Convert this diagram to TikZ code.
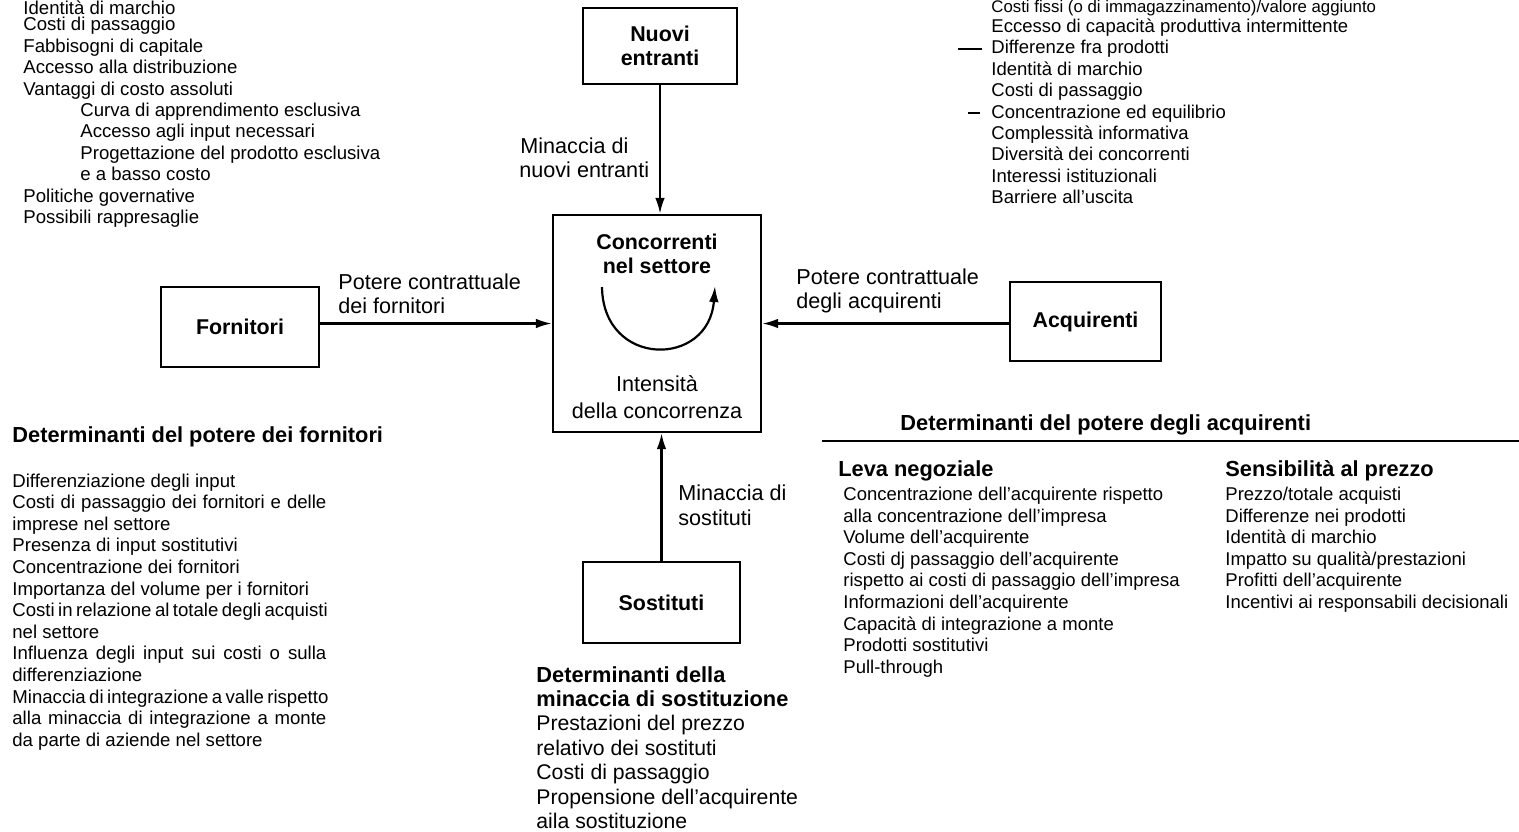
\documentclass[tikz,border=0pt]{standalone}
\usepackage{fontspec}
\setmainfont{Liberation Sans}
\usetikzlibrary{arrows.meta}
\newcommand\fBox{\fontsize{10.7pt}{12pt}\selectfont\bfseries}
\newcommand\fLab{\fontsize{10.8pt}{12pt}\selectfont}
\newcommand\fL{\fontsize{9.3pt}{11pt}\selectfont}
\newcommand\fR{\fontsize{9.25pt}{11pt}\selectfont}
\newcommand\fRs{\fontsize{8.4pt}{10pt}\selectfont}
\newcommand\fH{\fontsize{10.9pt}{12pt}\selectfont\bfseries}
\newcommand\fS{\fontsize{10.6pt}{12pt}\selectfont}
\begin{document}
\begin{tikzpicture}[x=0.5pt,y=-0.5pt,
  box/.style={draw, line width=1.15pt, inner sep=0pt, align=center, font=\fBox},
  txt/.style={inner sep=0pt, anchor=base west},
  ctr/.style={inner sep=0pt, anchor=base},
  arr/.style={line width=1.1pt, -{Latex[length=8pt,width=4.8pt]}},
  mark line/.style={line width=0.9pt},
]
\clip (0,0) rectangle (1519,831);
\fill[white] (0,0) rectangle (1519,831);

% ---------- boxes ----------
\node[box, minimum width=77pt, minimum height=38pt] (nuovi) at (660,46) {Nuovi\\entranti};
\node[box, minimum width=104pt, minimum height=108.5pt] (conc) at (657,323.5) {};
\node[ctr, font=\fBox] (conct1) at (657,249) {Concorrenti};
\node[ctr, font=\fBox] (conct2) at (657,273) {nel settore};
\node[ctr, font=\fLab] (int1) at (657,391) {Intensità};
\node[ctr, font=\fLab] (int2) at (657,418) {della concorrenza};
\node[box, minimum width=79pt, minimum height=40pt] (forn) at (240,327) {Fornitori};
\node[box, minimum width=75.5pt, minimum height=39.5pt] (acq) at (1085.5,321.5) {Acquirenti};
\node[box, minimum width=78.5pt, minimum height=40.5pt] (sost) at (661.5,602.5) {Sostituti};

% rivalry arc
\draw[arr] (602,287) .. controls (603,368) and (709,368) .. (715,286);

% ---------- connectors ----------
\draw[arr] (nuovi.south) -- (nuovi.south |- conc.north);
\draw[arr] (sost.north) -- (sost.north |- conc.south);
\draw[arr] (forn.east |- conc.center) -- (conc.west);
\draw[arr] (acq.west |- conc.center) -- (conc.east);

% ---------- connector labels ----------
\node[txt, font=\fLab] (lnuovi1) at (520,153) {Minaccia di};
\node[txt, font=\fLab] (lnuovi2) at (519,177) {nuovi entranti};
\node[txt, font=\fLab] (lsost1) at (678,500) {Minaccia di};
\node[txt, font=\fLab] (lsost2) at (678,525) {sostituti};
\node[txt, font=\fLab] (lforn1) at (338,289) {Potere contrattuale};
\node[txt, font=\fLab] (lforn2) at (338,313) {dei fornitori};
\node[txt, font=\fLab] (lacq1) at (796,284) {Potere contrattuale};
\node[txt, font=\fLab] (lacq2) at (796,308) {degli acquirenti};

% ---------- barriers to entry (top left) ----------
\node[txt, font=\fL] (tl0) at (23,14) {Identità di marchio};
\foreach \t [count=\i from 1] in {Costi di passaggio, Fabbisogni di capitale,
  Accesso alla distribuzione, Vantaggi di costo assoluti}
  \node[txt, font=\fL] (tl\i) at (23,9.5+21.4*\i) {\t};
\foreach \t [count=\i from 5] in {Curva di apprendimento esclusiva, Accesso agli input necessari,
  Progettazione del prodotto esclusiva, e a basso costo}
  \node[txt, font=\fL] (tl\i) at (80,9.5+21.4*\i) {\t};
\foreach \t [count=\i from 9] in {Politiche governative, Possibili rappresaglie}
  \node[txt, font=\fL] (tl\i) at (23,9.5+21.4*\i) {\t};

% ---------- rivalry determinants (top right) ----------
\node[txt, font=\fRs] (tr0) at (991,12.5) {Costi fissi (o di immagazzinamento)/valore aggiunto};
\foreach \t [count=\i from 1] in {Eccesso di capacità produttiva intermittente,
  Differenze fra prodotti, Identità di marchio,
  Costi di passaggio, Concentrazione ed equilibrio, Complessità informativa,
  Diversità dei concorrenti, Interessi istituzionali, Barriere all’uscita}
  \node[txt, font=\fR] (tr\i) at (991,11+21.4*\i) {\t};
\draw[mark line] (958,49) -- (982,49);
\draw[mark line] (968,113) -- (980,113);

% ---------- supplier power ----------
\node[txt, font=\fH] (hforn) at (12,442) {Determinanti del potere dei fornitori};
\foreach \t [count=\i from 0] in {Differenziazione degli input,
  \makebox[157pt][s]{Costi di passaggio dei fornitori e delle},
  imprese nel settore, Presenza di input sostitutivi, Concentrazione dei fornitori,
  Importanza del volume per i fornitori,
  \makebox[157pt][s]{Costi in relazione al totale degli acquisti},
  nel settore,
  \makebox[157pt][s]{Influenza degli input sui costi o sulla},
  differenziazione,
  \makebox[157pt][s]{Minaccia di integrazione a valle rispetto},
  \makebox[157pt][s]{alla minaccia di integrazione a monte},
  da parte di aziende nel settore}
  \node[txt, font=\fL] (sf\i) at (12,487+21.6*\i) {\t};

% ---------- buyer power ----------
\node[txt, font=\fH] (hacq) at (900,430) {Determinanti del potere degli acquirenti};
\coordinate (rulel) at (822,441);
\coordinate (ruler) at (1519,441);
\draw[line width=1.3pt] (rulel) -- (ruler);
\node[txt, font=\fH] (hleva) at (838,476) {Leva negoziale};
\foreach \t [count=\i from 0] in {Concentrazione dell’acquirente rispetto,
  alla concentrazione dell’impresa, Volume dell’acquirente, Costi dj passaggio dell’acquirente,
  rispetto ai costi di passaggio dell’impresa, Informazioni dell’acquirente,
  Capacità di integrazione a monte, Prodotti sostitutivi, Pull-through}
  \node[txt, font=\fR] (lv\i) at (843,500.5+21.6*\i) {\t};
\node[txt, font=\fH] (hsens) at (1225,476) {Sensibilità al prezzo};
\foreach \t [count=\i from 0] in {Prezzo/totale acquisti, Differenze nei prodotti,
  Identità di marchio, Impatto su qualità/prestazioni, Profitti dell’acquirente,
  Incentivi ai responsabili decisionali}
  \node[txt, font=\fR] (sp\i) at (1225,500.5+21.6*\i) {\t};

% ---------- substitutes ----------
\node[txt, font=\fH] (hsost1) at (536,682.5) {Determinanti della};
\node[txt, font=\fH] (hsost2) at (536,706.5) {minaccia di sostituzione};
\foreach \t [count=\i from 0] in {Prestazioni del prezzo, relativo dei sostituti,
  Costi di passaggio, Propensione dell’acquirente, aila sostituzione}
  \node[txt, font=\fS] (ss\i) at (536,730.5+24.6*\i) {\t};
\end{tikzpicture}
\end{document}
